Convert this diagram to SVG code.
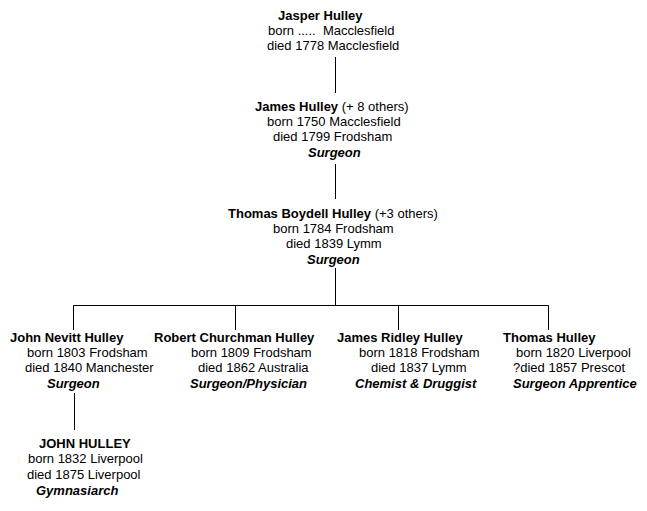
<svg xmlns="http://www.w3.org/2000/svg" width="647" height="511" viewBox="0 0 647 511">
<style>
text{font-family:"Liberation Sans",Arial,sans-serif;font-size:13px;fill:#000}
.b{font-weight:bold}
.i{font-weight:bold;font-style:italic}
.n{font-weight:normal}
line{stroke:#000;stroke-width:1}
</style>
<rect width="647" height="511" fill="#fff"/>
<g id="connectors">
<line x1="335.5" y1="57" x2="335.5" y2="93"/>
<line x1="335.5" y1="164" x2="335.5" y2="199"/>
<line x1="335.5" y1="268" x2="335.5" y2="305.5"/>
<line x1="73.5" y1="305.5" x2="548.5" y2="305.5"/>
<line x1="73.5" y1="305.5" x2="73.5" y2="330"/>
<line x1="235.5" y1="305.5" x2="235.5" y2="330"/>
<line x1="398.5" y1="305.5" x2="398.5" y2="330"/>
<line x1="548.5" y1="305.5" x2="548.5" y2="330"/>
<line x1="74.5" y1="393" x2="74.5" y2="430"/>
</g>
<g id="jasper">
<text class="b" x="278" y="20">Jasper Hulley</text>
<text x="268" y="35" xml:space="preserve">born .....  Macclesfield</text>
<text x="267" y="50">died 1778 Macclesfield</text>
</g>
<g id="james">
<text class="b" x="255" y="111">James Hulley <tspan class="n">(+ 8 others)</tspan></text>
<text x="267" y="126">born 1750 Macclesfield</text>
<text x="273" y="141">died 1799 Frodsham</text>
<text class="i" x="308" y="157">Surgeon</text>
</g>
<g id="thomas-boydell">
<text class="b" x="228" y="218">Thomas Boydell Hulley <tspan class="n">(+3 others)</tspan></text>
<text x="273" y="233">born 1784 Frodsham</text>
<text x="286" y="248">died 1839 Lymm</text>
<text class="i" x="307" y="264">Surgeon</text>
</g>
<g id="john-nevitt">
<text class="b" x="10" y="342">John Nevitt Hulley</text>
<text x="27" y="357">born 1803 Frodsham</text>
<text x="25" y="372">died 1840 Manchester</text>
<text class="i" x="47" y="388">Surgeon</text>
</g>
<g id="robert-churchman">
<text class="b" x="154" y="342">Robert Churchman Hulley</text>
<text x="191" y="357">born 1809 Frodsham</text>
<text x="198" y="372">died 1862 Australia</text>
<text class="i" x="190" y="388">Surgeon/Physician</text>
</g>
<g id="james-ridley">
<text class="b" x="337" y="342">James Ridley Hulley</text>
<text x="359" y="357">born 1818 Frodsham</text>
<text x="371" y="372">died 1837 Lymm</text>
<text class="i" x="355" y="388">Chemist &amp; Druggist</text>
</g>
<g id="thomas">
<text class="b" x="503" y="342">Thomas Hulley</text>
<text x="516" y="357">born 1820 Liverpool</text>
<text x="513" y="372">?died 1857 Prescot</text>
<text class="i" x="513" y="388">Surgeon Apprentice</text>
</g>
<g id="john-hulley">
<text class="b" x="39" y="448">JOHN HULLEY</text>
<text x="28" y="463">born 1832 Liverpool</text>
<text x="27" y="479">died 1875 Liverpool</text>
<text class="i" x="36" y="495">Gymnasiarch</text>
</g>
</svg>
